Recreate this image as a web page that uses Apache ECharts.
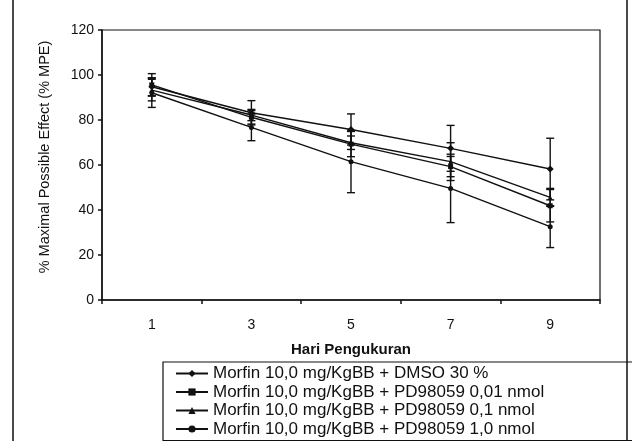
<!DOCTYPE html>
<html><head><meta charset="utf-8">
<script src="https://cdn.jsdelivr.net/npm/echarts@6/dist/echarts.min.js"></script>
<style>html,body{margin:0;padding:0;background:#fff}#c{width:632px;height:441px}</style>
</head><body><div id="c"></div>
<script>
var days = ['1','3','5','7','9'];
var seriesNames = ['Morfin 10,0 mg/KgBB + DMSO 30 %','Morfin 10,0 mg/KgBB + PD98059 0,01 nmol','Morfin 10,0 mg/KgBB + PD98059 0,1 nmol','Morfin 10,0 mg/KgBB + PD98059 1,0 nmol'];
var dmso = [94.8, 83.2, 75.8, 67.4, 58.2];
var pd001 = [95.6, 81.2, 69.3, 59.3, 41.9];
var pd01 = [93.3, 82.2, 69.9, 61.5, 45.6];
var pd10 = [92.1, 76.7, 61.5, 49.6, 32.6];
var errDmso = [4.0, 5.4, 6.9, 10.2, 13.7];
var errPd001 = [5.0, 3.0, 5.6, 4.5, 7.2];
var errPd01 = [4.8, 2.5, 3.0, 8.4, 4.0];
var errPd10 = [6.5, 5.9, 13.8, 15.2, 9.3];
var yTicks = [0, 20, 40, 60, 80, 100, 120];

var means = [dmso, pd001, pd01, pd10];
var errs = [errDmso, errPd001, errPd01, errPd10];
var symbols = ['diamond', 'rect', 'triangle', 'circle'];
var FONT = 'Liberation Sans, Arial, sans-serif';

var series = [];
means.forEach(function(m, i){
  series.push({
    name: seriesNames[i], type: 'line', data: m,
    symbol: symbols[i], symbolSize: symbols[i]==='diamond'?7:5,
    lineStyle: {color: '#111', width: 1.4},
    itemStyle: {color: '#111'},
    z: 3
  });
  series.push({
    type: 'custom', silent: true, z: 4,
    data: m.map(function(v, k){ return [k, v - errs[i][k], v + errs[i][k]]; }),
    encode: {x: 0, y: [1, 2]},
    renderItem: function(params, api){
      var lo = api.coord([api.value(0), api.value(1)]);
      var hi = api.coord([api.value(0), api.value(2)]);
      var w = 4;
      var st = {stroke: '#111', lineWidth: 1.4};
      return {type: 'group', children: [
        {type: 'line', shape: {x1: lo[0], y1: lo[1], x2: hi[0], y2: hi[1]}, style: st},
        {type: 'line', shape: {x1: lo[0]-w, y1: lo[1], x2: lo[0]+w, y2: lo[1]}, style: st},
        {type: 'line', shape: {x1: hi[0]-w, y1: hi[1], x2: hi[0]+w, y2: hi[1]}, style: st}
      ]};
    }
  });
});

var chart = echarts.init(document.getElementById('c'));
chart.setOption({
  animation: false,
  backgroundColor: '#fff',
  grid: {left: 102, top: 30, right: 32, bottom: 141, show: true, borderColor: '#111', borderWidth: 1.2},
  xAxis: {
    type: 'category', data: days, boundaryGap: true,
    name: 'Hari Pengukuran', nameLocation: 'middle', nameGap: 42,
    nameTextStyle: {fontFamily: FONT, fontSize: 15, fontWeight: 'bold', color: '#111'},
    axisLine: {lineStyle: {color: '#111', width: 1.5}},
    axisTick: {show: true, length: 4, lineStyle: {color: '#111', width: 1.5}},
    axisLabel: {fontFamily: FONT, fontSize: 14, color: '#111', margin: 18},
    splitLine: {show: false}
  },
  yAxis: {
    type: 'value', min: 0, max: 120, interval: 20,
    name: '% Maximal Possible Effect (% MPE)', nameLocation: 'middle', nameGap: 50,
    nameTextStyle: {fontFamily: FONT, fontSize: 14.5, color: '#111', padding: [0, 0, 0, 16]},
    axisLine: {show: true, lineStyle: {color: '#111', width: 1.5}},
    axisTick: {show: true, length: 4, lineStyle: {color: '#111', width: 1.5}},
    axisLabel: {fontFamily: FONT, fontSize: 14, color: '#111', margin: 8,
      formatter: function(v){ return yTicks.indexOf(v) >= 0 ? String(v) : ''; }},
    splitLine: {show: false}
  },
  legend: {
    data: seriesNames, orient: 'vertical', left: 163, top: 362, height: 90,
    itemWidth: 32, itemHeight: 9, itemGap: 1.5,
    padding: [3, 200, 3, 12],
    borderColor: '#111', borderWidth: 1.2,
    textStyle: {fontFamily: FONT, fontSize: 17, lineHeight: 17, color: '#111'},
    inactiveColor: '#111'
  },
  graphic: [{type: 'rect', shape: {x: 13, y: -5, width: 614, height: 455}, style: {fill: 'none', stroke: '#111', lineWidth: 1.5}, silent: true}],
  series: series
});
</script></body></html>
